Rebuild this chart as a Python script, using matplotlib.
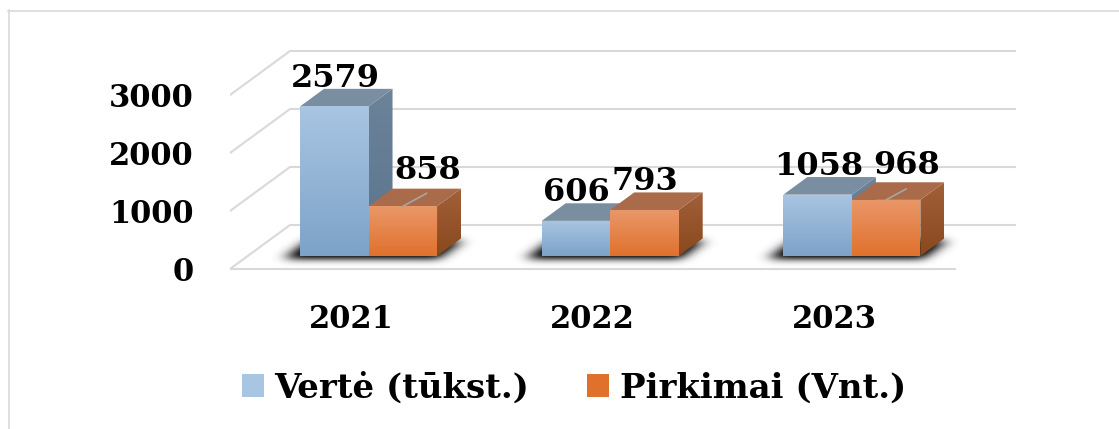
import numpy as np
import matplotlib.pyplot as plt
from matplotlib.patches import Polygon, Patch
from matplotlib.colors import LinearSegmentedColormap

years = ['2021', '2022', '2023']
verte = [2579, 606, 1058]
pirkimai = [858, 793, 968]
series_names = ['Vertė (tūkst.)', 'Pirkimai (Vnt.)']
yticks = [0, 1000, 2000, 3000]

plt.rcParams['font.family'] = 'DejaVu Serif'
plt.rcParams['font.weight'] = 'bold'

W, H = 1119, 429
fig = plt.figure(figsize=(W / 100, H / 100), dpi=100)

# plot area (front plane) in pixels
x_left, x_right = 230, 1019
y_top, y_bot = 40, 282
ppc = 725 / 3          # pixels per category
ppv = 174 / 3000       # pixels per value unit
v0_px = 269            # value 0 on front floor edge

xmin = -0.5
xmax = xmin + (x_right - x_left) / ppc
ymin = -(y_bot - v0_px) / ppv
ymax = (v0_px - y_top) / ppv

ax = fig.add_axes([x_left / W, 1 - y_bot / H, (x_right - x_left) / W, (y_bot - y_top) / H])

# depth of the wall (pixels -> data)
DX = 60 / ppc
DY = 44 / ppv
F1, F2 = 0.295, 0.695    # front / back of bars as fraction of depth
bw = 68.5 / ppc

grid_c = '#D9D9D9'
for v in yticks:
    ax.plot([-0.5, -0.5 + DX, 2.5 + DX], [v, v + DY, v + DY], color=grid_c, lw=1.5, zorder=1)
ax.plot([-0.5, 2.5], [0, 0], color=grid_c, lw=1.5, zorder=1)


def gradient_poly(pts, cols, z):
    pts = np.array(pts)
    patch = Polygon(pts, closed=True, fc='none', ec='none')
    ax.add_patch(patch)
    cmap = LinearSegmentedColormap.from_list('g', cols)
    grad = np.linspace(0, 1, 64).reshape(-1, 1)
    im = ax.imshow(grad, cmap=cmap, origin='upper', aspect='auto', interpolation='bilinear',
                   extent=[pts[:, 0].min(), pts[:, 0].max(), pts[:, 1].min(), pts[:, 1].max()],
                   zorder=z)
    im.set_clip_path(patch)


def blur1d(a, sigma, axis):
    r = int(3 * sigma)
    k = np.exp(-0.5 * (np.arange(-r, r + 1) / sigma) ** 2)
    k /= k.sum()
    return np.apply_along_axis(lambda m: np.convolve(m, k, mode='same'), axis, a)


def draw_shadow(x0, x1, z):
    # soft shadow of the bar footprint on the floor, one grid cell per pixel
    pad = 35
    ex0 = x0 - pad / ppc
    ex1 = x1 + DX + pad / ppc
    ey0 = -pad / ppv
    ey1 = DY + pad / ppv
    nx = int((ex1 - ex0) * ppc)
    ny = int((ey1 - ey0) * ppv)
    xs = np.linspace(ex0, ex1, nx)
    ys = np.linspace(ey1, ey0, ny)
    X, Y = np.meshgrid(xs, ys)
    d = Y / DY
    u = X - d * DX
    mask = ((d >= F1 - 0.08) & (d <= F2 - 0.05) & (u >= x0 - 12 / ppc) & (u <= x1 + 6 / ppc)).astype(float)
    mask = blur1d(blur1d(mask, 7, 1), 3.5, 0)
    img = np.zeros((ny, nx, 4))
    img[..., :3] = 0.1
    img[..., 3] = np.clip(mask * 1.25, 0, 0.95)
    ax.imshow(img, origin='upper', aspect='auto', interpolation='bilinear',
              extent=[ex0, ex1, ey0, ey1], zorder=z)


def draw_bar(x0, x1, v, front_cols, top_col, side_cols, z):
    fx, fy = F1 * DX, F1 * DY
    bx, by = F2 * DX, F2 * DY
    side = [(x1 + fx, fy), (x1 + fx, v + fy), (x1 + bx, v + by), (x1 + bx, by)]
    gradient_poly(side, side_cols, z)
    top = [(x0 + fx, v + fy), (x1 + fx, v + fy), (x1 + bx, v + by), (x0 + bx, v + by)]
    ax.add_patch(Polygon(top, closed=True, fc=top_col, ec='none', zorder=z))
    front = [(x0 + fx, fy), (x1 + fx, fy), (x1 + fx, v + fy), (x0 + fx, v + fy)]
    gradient_poly(front, front_cols, z)


blue_front = ['#A8C5E2', '#7DA3C8']
blue_top = '#7A8EA2'
blue_side = ['#6C8399', '#5A748E']
orange_front = ['#EA9769', '#E0712D']
orange_top = '#AA6B4A'
orange_side = ['#A2603A', '#8A481E']

# label nudges in pixels (two labels were moved away with leader lines)
nudge_b = [(1, 2), (0, 2), (1, 2)]
nudge_o = [(25, 10), (0, 2), (21, 8)]

for i in range(len(years)):
    draw_shadow(i - bw, i + bw, 2)
    draw_bar(i - bw, i, verte[i], blue_front, blue_top, blue_side, 3)
    draw_bar(i, i + bw, pirkimai[i], orange_front, orange_top, orange_side, 4)

    for xc, v, (nx, ny) in [(i - bw / 2, verte[i], nudge_b[i]), (i + bw / 2, pirkimai[i], nudge_o[i])]:
        ax.annotate(str(v), xy=(xc + F1 * DX, v + F2 * DY), xytext=(nx * 0.72, ny * 0.72),
                    textcoords='offset points', ha='center', va='baseline',
                    fontsize=23, fontweight='bold', zorder=6)
        if nx > 5:
            ax.annotate('', xy=(xc + F1 * DX, v + F1 * DY), xytext=(nx * 0.96 * 0.72, (ny + 3) * 0.72),
                        textcoords='offset points',
                        arrowprops=dict(arrowstyle='-', color='#A6A6A6', lw=1.2, shrinkA=0, shrinkB=0),
                        zorder=5)

ax.set_xlim(xmin, xmax)
ax.set_ylim(ymin, ymax)
ax.set_xticks(range(len(years)), years)
ax.set_yticks(yticks)
ax.tick_params(axis='both', length=0, labelsize=22)
ax.tick_params(axis='y', pad=26)
ax.tick_params(axis='x', pad=16)
for s in ax.spines.values():
    s.set_visible(False)
ax.patch.set_alpha(0)

handles = [Patch(fc=blue_front[0]), Patch(fc=orange_front[1])]
fig.legend(handles, series_names, loc='center', bbox_to_anchor=(574 / W, 1 - 388 / H), ncol=2,
           frameon=False, prop={'family': 'DejaVu Serif', 'weight': 'bold', 'size': 24.5},
           handlelength=0.65, handleheight=0.65, handletextpad=0.3, columnspacing=1.7)

# chart border (top and left visible)
fig.add_artist(plt.Line2D([8 / W, 1], [1 - 10.5 / H, 1 - 10.5 / H], color=grid_c, lw=1.2))
fig.add_artist(plt.Line2D([8.5 / W, 8.5 / W], [0, 1 - 10 / H], color=grid_c, lw=1.2))

fig.savefig('out.png', dpi=100)
